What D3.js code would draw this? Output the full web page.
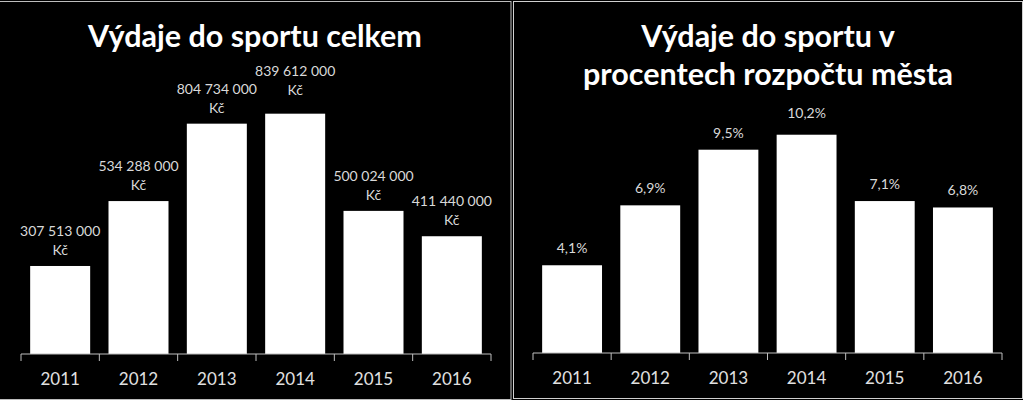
<!DOCTYPE html>
<html><head><meta charset="utf-8">
<script src="https://cdn.jsdelivr.net/npm/d3@7"></script>
<style>html,body{margin:0;padding:0;background:#fff;}svg{display:block;}</style>
</head><body>
<svg id="c" width="1024" height="402"></svg>
<script>
const years = ["2011","2012","2013","2014","2015","2016"];
const totalCZK = [307513000, 534288000, 804734000, 839612000, 500024000, 411440000];
const sharePct = [4.1, 6.9, 9.5, 10.2, 7.1, 6.8];
const titleLeft = ["Výdaje do sportu celkem"];
const titleRight = ["Výdaje do sportu v", "procentech rozpočtu města"];
const currencyUnit = "Kč";

const loc = d3.formatLocale({decimal: ",", thousands: " ", grouping: [3], currency: ["", ""]});
const fmtInt = loc.format(",.0f");
const fmtPct = loc.format(".1f");

const svg = d3.select("#c");
const FONT = "Lato, 'Open Sans', sans-serif";
svg.append("rect").attr("x",0).attr("y",0).attr("width",1023).attr("height",400).attr("fill","#000");
svg.append("rect").attr("x",-1).attr("y",1.5).attr("width",512).attr("height",398).attr("fill","none").attr("stroke","#bdbdbd");
svg.append("rect").attr("x",513.5).attr("y",1.5).attr("width",509).attr("height",397).attr("fill","none").attr("stroke","#d0d0d0");

function panel(cfg){
  const g = svg.append("g");
  const x = d3.scaleBand().domain(years).range(cfg.xr).paddingInner(0.234).paddingOuter(0.117);
  const y = d3.scaleLinear().domain(cfg.yd).range(cfg.yr);
  // title
  const t = g.append("text").attr("text-anchor","middle").attr("fill","#fff")
    .attr("font-family",FONT).attr("font-weight","bold").attr("font-size",cfg.tsize);
  cfg.title.forEach((s,i)=>t.append("tspan").attr("x",cfg.tx).attr("y",47+i*38).text(s));
  // bars
  g.selectAll("rect.bar").data(cfg.values).join("rect").attr("class","bar")
    .attr("x",(d,i)=>x(years[i])).attr("width",x.bandwidth())
    .attr("y",d=>y(d)).attr("height",d=>y(0)-y(d)).attr("fill","#fff");
  // axis
  const base = y(0);
  const ax = g.append("g").attr("transform",`translate(0,${base})`)
    .call(d3.axisBottom(x).tickSize(0).tickPadding(0));
  ax.select(".domain").attr("stroke","#bfbfbf").attr("d",`M${cfg.xr[0]},0H${cfg.xr[1]}`);
  ax.selectAll(".tick text").attr("y",31).attr("dy",0).attr("fill","#e0e0e0")
    .attr("font-family",FONT).attr("font-size",17);
  const edges = years.map(v=>x(v)-x.step()*x.paddingInner()/2).map((e,i)=> i===0? cfg.xr[0] : e).concat([cfg.xr[1]]);
  ax.selectAll("line.edge").data(edges).join("line").attr("class","edge")
    .attr("x1",d=>d).attr("x2",d=>d).attr("y1",0).attr("y2",7).attr("stroke","#bfbfbf");
  // labels
  const lab = g.selectAll("text.lab").data(cfg.values).join("text").attr("class","lab")
    .attr("text-anchor","middle").attr("fill","#d9d9d9").attr("font-family",FONT).attr("font-size",cfg.lsize);
  lab.each(function(d,i){
    const el = d3.select(this), cx = x(years[i])+x.bandwidth()/2, top = y(d);
    const lines = cfg.label(d);
    const off = (cfg.lift[years[i]] || 0);
    lines.forEach((s,k)=>el.append("tspan").attr("x",cx).attr("y",top-cfg.lgap-off-(lines.length-1-k)*19).text(s));
  });
}

panel({xr:[21,491], yd:[0,900e6], yr:[354,96.4], values: totalCZK, title: titleLeft, tx: 255, tsize: 30.5, lsize: 14,
  lgap: 11, lift: {"2014": 8}, label: d=>[fmtInt(d), currencyUnit]});
panel({xr:[533,1002], yd:[0,12], yr:[353,96.2], values: sharePct, title: titleRight, tx: 768, tsize: 30.5, lsize: 14,
  lgap: 12, lift: {"2014": 5}, label: d=>[fmtPct(d)+"%"]});
</script>
</body></html>
